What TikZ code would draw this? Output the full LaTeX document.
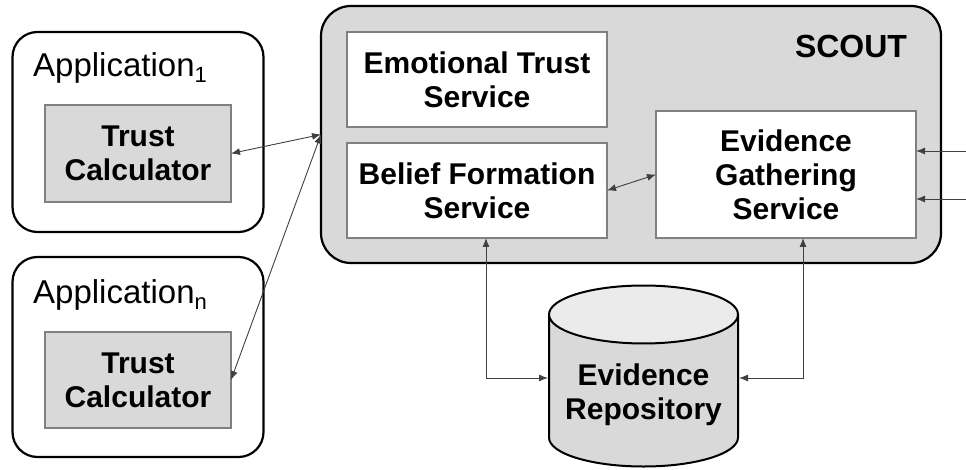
\documentclass[tikz,border=0pt]{standalone}
\usepackage{fontspec}
\setmainfont{Liberation Sans}
\usetikzlibrary{arrows.meta,shapes.geometric}

\definecolor{boxgray}{HTML}{D9D9D9}
\definecolor{topgray}{HTML}{EBEBEB}
\definecolor{edgegray}{HTML}{808080}
\definecolor{linegray}{HTML}{404040}

\tikzset{
  outerbox/.style={draw=black, line width=2.2pt, inner sep=0pt, outer sep=0pt},
  svcbox/.style={draw=edgegray, line width=1.3pt, fill=white, align=center, inner sep=0pt,
    outer sep=0pt, font=\fontsize{30}{34}\selectfont\bfseries},
  calcbox/.style={svcbox, fill=boxgray},
  applabel/.style={anchor=base west, inner sep=0pt, font=\fontsize{33}{36}\selectfont},
  conn/.style={draw=linegray, line width=0.9pt, {Latex[length=9pt,width=7pt]}-{Latex[length=9pt,width=7pt]}},
  inconn/.style={draw=linegray, line width=0.9pt, -{Latex[length=9pt,width=7pt]}}
}
\newcommand{\appsub}[1]{\raisebox{-6pt}{\fontsize{22}{22}\selectfont #1}}

\begin{document}
\begin{tikzpicture}[x=1pt, y=-1pt]
        \useasboundingbox (0,0) rectangle (966,470);

        % applications
        \node[outerbox, rounded corners=25pt, minimum width=251pt, minimum height=200pt] (app1) at (138,132) {};
        \node[calcbox, minimum width=186pt, minimum height=97pt] (tc1) at (138,153.5) {Trust\\Calculator};
        \node[applabel] (app1lbl) at (33,77) {Application\appsub{1}};

        \node[outerbox, rounded corners=25pt, minimum width=251pt, minimum height=200pt] (appn) at (138,357) {};
        \node[calcbox, minimum width=186pt, minimum height=96pt] (tcn) at (138,380) {Trust\\Calculator};
        \node[applabel] (appnlbl) at (33,303) {Application\appsub{n}};

        % SCOUT
        \node[outerbox, fill=boxgray, rounded corners=30pt, minimum width=620pt, minimum height=257pt] (scout) at (631,134.5) {};
        \node[font=\fontsize{32}{36}\selectfont\bfseries, inner sep=0pt] (scoutlbl) at (851,46) {SCOUT};
        \node[svcbox, minimum width=260pt, minimum height=95pt] (emo) at (477,79.5) {Emotional Trust\\Service};
        \node[svcbox, minimum width=260pt, minimum height=95pt] (belief) at (477,190.5) {Belief Formation\\Service};
        \node[svcbox, minimum width=260pt, minimum height=127pt] (gather) at (786,174.5) {Evidence\\Gathering\\Service};

        % repository
        \node[cylinder, shape border rotate=90, aspect=0.37, draw=black, line width=2pt,
              cylinder uses custom fill, cylinder body fill=boxgray, cylinder end fill=topgray,
              minimum width=189pt, minimum height=181pt, inner sep=0pt,
              font=\fontsize{30}{34}\selectfont\bfseries] (repo) at (643.5,391)
              {\raisebox{-5pt}[\height][\depth]{\begin{tabular}{@{}c@{}}Evidence\\Repository\end{tabular}}};

        % connectors
        \draw[conn] (tc1.east) -- (scout.west);
        \draw[conn] (tcn.east) -- (scout.west);
        \draw[conn] (belief.east) -- (gather.west);
        \draw[conn] ([xshift=9pt]belief.south) |- ([yshift=13pt]repo.west);
        \draw[conn] ([xshift=17pt]gather.south) |- ([yshift=13pt]repo.east);
        \coordinate (ext1) at (966,151);
        \coordinate (ext2) at (966,199);
        \draw[inconn] (ext1) -- (gather.east |- ext1);
        \draw[inconn] (ext2) -- (gather.east |- ext2);
     \end{tikzpicture}
\end{document}
